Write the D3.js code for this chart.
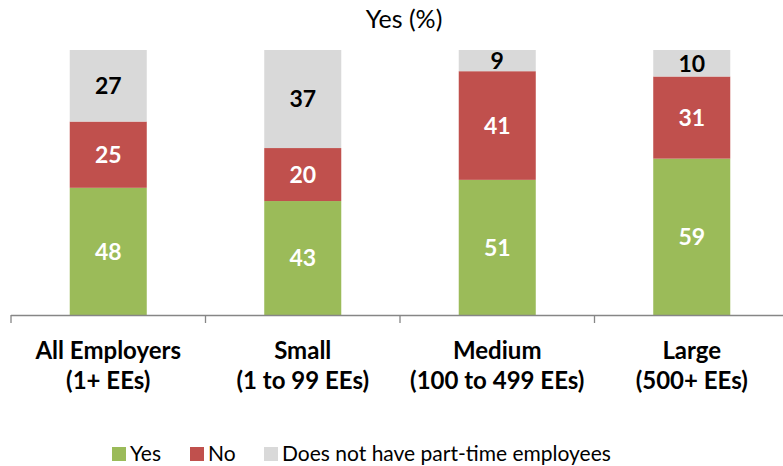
<!DOCTYPE html>
<html><head><meta charset="utf-8">
<script src="https://cdn.jsdelivr.net/npm/d3@7"></script>
<style>body{margin:0;background:#fff}svg{display:block}text{font-family:Lato,"Open Sans",sans-serif}</style>
</head><body><svg id="c" width="783" height="466"></svg>
<script>
const categories = [["All Employers","(1+ EEs)"],["Small","(1 to 99 EEs)"],["Medium","(100 to 499 EEs)"],["Large","(500+ EEs)"]];
const yesValues = [48, 43, 51, 59];
const noValues = [25, 20, 41, 31];
const noPtValues = [27, 37, 9, 10];
const seriesNames = ["Yes", "No", "Does not have part-time employees"];
const colors = ["#9BBB59", "#C0504D", "#D9D9D9"];
const labelColors = ["#ffffff", "#ffffff", "#000000"];
const title = "Yes (%)";

const svg = d3.select("#c");
const rows = categories.map((c, i) => ({key: i, yes: yesValues[i], no: noValues[i], np: noPtValues[i]}));
const stack = d3.stack().keys(["yes", "no", "np"])(rows);

const x = d3.scaleBand().domain(d3.range(categories.length)).range([11, 789]).paddingInner(0.604).paddingOuter(0.302);
const y = d3.scaleLinear().domain([0, 100]).range([315, 50]).clamp(true);

svg.append("text").attr("x", 404).attr("y", 28).attr("text-anchor", "middle")
  .attr("font-size", 25).attr("fill", "#000").text(title);

const g = svg.append("g");
stack.forEach((s, si) => {
  g.selectAll(null).data(s).enter().append("rect")
    .attr("x", (d, i) => x(i)).attr("width", x.bandwidth())
    .attr("y", d => y(d[1])).attr("height", d => y(d[0]) - y(d[1]))
    .attr("fill", colors[si]);
  g.selectAll(null).data(s).enter().append("text")
    .attr("x", (d, i) => x(i) + x.bandwidth() / 2)
    .attr("y", d => (y(d[0]) + y(d[1])) / 2)
    .attr("dy", "0.36em").attr("text-anchor", "middle")
    .attr("font-size", 23).attr("font-weight", "bold").attr("fill", labelColors[si])
    .text(d => d[1] - d[0]);
});

// axis
const axis = svg.append("g").attr("stroke", "#868686").attr("stroke-width", 1.3);
axis.append("line").attr("x1", 11).attr("x2", 789).attr("y1", 315.5).attr("y2", 315.5);
d3.range(categories.length + 1).forEach(i => {
  const xx = 11 + i * x.step();
  axis.append("line").attr("x1", xx).attr("x2", xx).attr("y1", 315).attr("y2", 323);
});

categories.forEach((c, i) => {
  const t = svg.append("text").attr("text-anchor", "middle").attr("font-size", 24).attr("font-weight", "bold").attr("fill", "#000");
  c.forEach((line, li) => {
    t.append("tspan").attr("x", x(i) + x.bandwidth() / 2).attr("y", 359 + li * 30).text(line);
  });
});

// legend
const legX = [112, 190, 264];
seriesNames.forEach((n, i) => {
  svg.append("rect").attr("x", legX[i]).attr("y", 447).attr("width", 14).attr("height", 14).attr("fill", colors[i]);
  svg.append("text").attr("x", legX[i] + 18).attr("y", 461).attr("font-size", 21).attr("fill", "#000").text(n);
});
</script></body></html>
